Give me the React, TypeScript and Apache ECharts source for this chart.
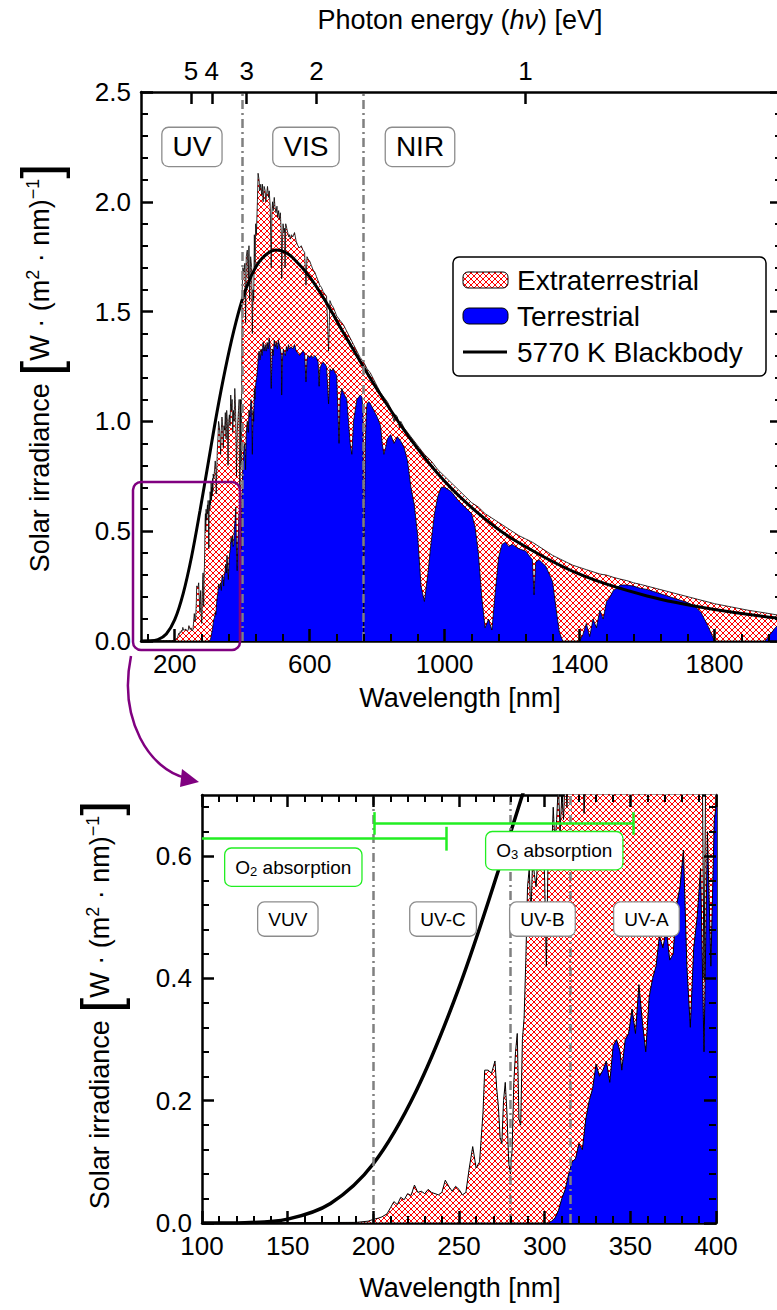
import React, { useEffect, useRef } from "react";
import * as echarts from "echarts";

// ---------- data ----------
// Extraterrestrial spectrum (wavelength nm, irradiance W/(m2 nm))
const extWl = [
  120, 190, 197, 200, 203, 205, 208, 210, 212, 214, 216, 218, 220, 222, 224, 226, 228, 230, 232, 234, 236, 238, 240,
  242, 244, 246, 248, 250, 252, 254, 256, 258, 260, 262, 264, 265, 267, 269, 271, 272, 273, 274, 275, 276, 277, 278, 279, 280,
  281, 282, 283, 284, 285, 286, 287, 288, 289, 290, 291, 292, 293, 294, 295, 296, 297, 298, 299, 300,
  301, 302, 303, 304, 305, 306, 307, 308, 309, 310, 311, 312, 313, 314, 316, 318, 320, 322, 323, 324,
  326, 328, 330, 332, 334, 336, 338, 340, 342, 344, 346, 348, 350, 352, 354, 356, 358, 360, 362, 364,
  366, 368, 370, 372, 374, 376, 378, 380, 382, 383, 385, 387, 389, 391, 393, 395, 397, 399, 400,
  402, 405, 408, 410, 412, 415, 418, 420, 422, 425, 428, 430, 432, 434, 436, 438, 440, 442, 445, 447,
  450, 452, 455, 458, 460, 462, 465, 468, 470, 472, 475, 478, 480, 483, 486, 488, 490, 492, 495, 497,
  500, 503, 505, 508, 510, 513, 516, 517, 519, 521, 524, 526, 527, 529, 532, 535, 538, 540, 543, 546,
  550, 555, 560, 565, 570, 575, 580, 585, 589, 592, 595, 600, 605, 610, 615, 620, 625, 630, 635, 640,
  645, 650, 656, 660, 665, 670, 675, 680, 690, 700, 710, 720, 730, 740, 750, 760, 770, 780, 790, 800,
  810, 820, 830, 840, 850, 855, 860, 866, 870, 880, 890, 900, 920, 940, 960, 980, 1000,
  1020, 1040, 1060, 1080, 1100, 1120, 1140, 1160, 1180, 1200, 1220, 1240, 1260, 1280, 1300, 1320, 1340, 1360, 1380, 1400,
  1420, 1440, 1460, 1480, 1500, 1520, 1540, 1560, 1580, 1600, 1650, 1700, 1750, 1800, 1850, 1900, 1950, 2000,
];
const extVal = [
  0, 0.001, 0.003, 0.006, 0.008, 0.01, 0.015, 0.025, 0.035, 0.03, 0.042, 0.038, 0.048, 0.045, 0.062, 0.05, 0.052, 0.048, 0.055, 0.05, 0.048, 0.046, 0.05,
  0.07, 0.06, 0.052, 0.06, 0.055, 0.046, 0.05, 0.09, 0.125, 0.09, 0.1, 0.18, 0.25, 0.25, 0.245, 0.265, 0.22, 0.19, 0.14, 0.13, 0.2, 0.23, 0.18, 0.1, 0.08,
  0.12, 0.23, 0.28, 0.31, 0.17, 0.16, 0.3, 0.335, 0.43, 0.55, 0.58, 0.5, 0.6, 0.57, 0.55, 0.6, 0.62, 0.58, 0.64, 0.56,
  0.42, 0.6, 0.64, 0.6, 0.68, 0.62, 0.66, 0.72, 0.64, 0.7, 0.66, 0.74, 0.68, 0.76, 0.74, 0.78, 0.82, 0.78, 0.67, 0.74,
  0.86, 0.92, 1.0, 0.98, 0.94, 0.85, 0.96, 1.02, 0.98, 0.88, 0.98, 0.96, 1.04, 0.92, 1.05, 1.0, 0.8, 1.0, 1.03, 0.98,
  1.12, 1.05, 1.1, 0.95, 1.05, 1.0, 1.15, 1.08, 0.9, 0.75, 0.95, 1.0, 1.05, 1.1, 0.4, 1.1, 0.8, 1.35, 1.6,
  1.7, 1.68, 1.72, 1.45, 1.75, 1.78, 1.65, 1.8, 1.55, 1.75, 1.7, 1.4, 1.6, 1.55, 1.85, 1.7, 1.9, 1.85, 2.0, 2.13,
  2.1, 2.05, 2.08, 2.03, 2.08, 2.0, 2.07, 2.05, 2.0, 2.03, 2.07, 2.02, 2.05, 1.98, 1.7, 1.95, 2.0, 1.96, 2.02, 1.98,
  1.95, 1.98, 1.93, 1.96, 1.92, 1.95, 1.85, 1.65, 1.8, 1.9, 1.86, 1.88, 1.7, 1.9, 1.88, 1.86, 1.84, 1.85, 1.83, 1.85,
  1.84, 1.86, 1.82, 1.8, 1.79, 1.8, 1.78, 1.77, 1.62, 1.75, 1.74, 1.73, 1.71, 1.69, 1.68, 1.66, 1.64, 1.62, 1.61, 1.59,
  1.58, 1.57, 1.32, 1.55, 1.53, 1.52, 1.5, 1.48, 1.46, 1.44, 1.41, 1.38, 1.35, 1.32, 1.29, 1.27, 1.24, 1.22, 1.19, 1.16,
  1.13, 1.11, 1.09, 1.06, 1.0, 1.03, 1.02, 0.97, 1.0, 0.97, 0.95, 0.93, 0.89, 0.85, 0.82, 0.78, 0.75,
  0.72, 0.69, 0.66, 0.63, 0.61, 0.58, 0.56, 0.54, 0.52, 0.5, 0.48, 0.465, 0.45, 0.43, 0.41, 0.39, 0.375, 0.36, 0.345, 0.335,
  0.325, 0.315, 0.305, 0.3, 0.29, 0.282, 0.275, 0.265, 0.258, 0.25, 0.23, 0.21, 0.19, 0.17, 0.155, 0.14, 0.128, 0.115,
];

// Terrestrial spectrum
const terWl = [
  100, 300, 302, 304, 306, 308, 310, 312, 314, 316, 318, 320, 322, 324, 326, 328, 330, 332, 334, 336,
  338, 340, 342, 344, 345, 347, 349, 351, 353, 355, 357, 359, 361, 363, 365, 367, 369, 371, 373, 375,
  377, 379, 381, 383, 385, 387, 389, 391, 393, 395, 397, 399, 400,
  402, 405, 408, 410, 412, 415, 418, 420, 423, 426, 428, 430, 432, 434, 436, 438, 440, 443, 446, 448,
  450, 453, 456, 459, 462, 465, 468, 471, 474, 477, 480, 483, 486, 489, 492, 495, 498, 501, 504, 507,
  510, 513, 516, 517, 519, 522, 525, 528, 531, 534, 537, 540, 545, 550, 555, 560, 565, 570, 575, 580,
  585, 589, 592, 595, 600, 605, 610, 615, 620, 625, 628, 630, 635, 640, 645, 650, 656, 660, 665, 670,
  675, 680, 687, 690, 695, 700, 710, 715, 720, 725, 730, 735, 740, 745, 750, 755, 758, 760, 762, 765,
  768, 770, 775, 780, 790, 800, 810, 815, 820, 825, 830, 840, 850, 860, 870, 880, 890, 900, 910, 920,
  930, 940, 950, 960, 970, 980, 990, 1000, 1020, 1040, 1060, 1080, 1090, 1100, 1110, 1120, 1130, 1140, 1150, 1160,
  1170, 1180, 1190, 1200, 1220, 1240, 1260, 1265, 1270, 1280, 1300, 1320, 1330, 1340, 1350, 1400, 1410, 1420, 1430, 1440,
  1450, 1460, 1470, 1480, 1490, 1500, 1510, 1520, 1540, 1560, 1580, 1600, 1620, 1640, 1660, 1680, 1700, 1720, 1740, 1760,
  1780, 1800, 1950, 1960, 1980, 2000,
];
const terVal = [
  0, 0, 0, 0.003, 0.008, 0.02, 0.04, 0.055, 0.08, 0.1, 0.105, 0.13, 0.12, 0.17, 0.2, 0.22, 0.26, 0.24, 0.25, 0.265,
  0.23, 0.29, 0.3, 0.28, 0.25, 0.3, 0.31, 0.35, 0.31, 0.39, 0.33, 0.28, 0.37, 0.4, 0.42, 0.47, 0.45, 0.48, 0.43, 0.44,
  0.52, 0.55, 0.61, 0.42, 0.32, 0.45, 0.5, 0.58, 0.28, 0.64, 0.42, 0.66, 0.68,
  0.8, 0.88, 0.9, 0.78, 0.95, 1.0, 0.95, 1.05, 1.02, 1.1, 1.08, 0.85, 1.05, 1.0, 1.15, 1.1, 1.17, 1.2, 1.25, 1.3,
  1.32, 1.28, 1.33, 1.3, 1.36, 1.32, 1.35, 1.32, 1.36, 1.33, 1.38, 1.34, 1.15, 1.33, 1.3, 1.37, 1.34, 1.36, 1.33, 1.37,
  1.35, 1.33, 1.3, 1.12, 1.28, 1.33, 1.31, 1.3, 1.34, 1.32, 1.35, 1.33, 1.34, 1.33, 1.35, 1.32, 1.31, 1.3, 1.31, 1.32,
  1.31, 1.18, 1.28, 1.3, 1.29, 1.3, 1.29, 1.3, 1.29, 1.27, 1.16, 1.24, 1.26, 1.27, 1.26, 1.25, 1.08, 1.24, 1.23, 1.24,
  1.22, 1.21, 0.9, 1.1, 1.15, 1.13, 1.1, 1.0, 0.9, 0.85, 1.0, 1.05, 1.1, 1.11, 1.12, 1.11, 1.05, 0.03, 0.5, 0.9,
  1.05, 1.08, 1.09, 1.08, 1.05, 1.02, 0.98, 0.9, 0.85, 0.88, 0.92, 0.94, 0.9, 0.93, 0.91, 0.88, 0.82, 0.7, 0.62, 0.48,
  0.25, 0.18, 0.3, 0.45, 0.58, 0.66, 0.7, 0.7, 0.68, 0.64, 0.61, 0.58, 0.52, 0.4, 0.2, 0.06, 0.1, 0.05, 0.22, 0.38,
  0.44, 0.45, 0.43, 0.44, 0.42, 0.41, 0.37, 0.21, 0.36, 0.37, 0.34, 0.27, 0.15, 0.04, 0, 0, 0.03, 0.08, 0.02, 0.1,
  0.06, 0.14, 0.1, 0.18, 0.2, 0.23, 0.24, 0.255, 0.255, 0.25, 0.24, 0.235, 0.225, 0.215, 0.205, 0.195, 0.185, 0.175, 0.16, 0.13,
  0.07, 0, 0, 0.02, 0.06, 0.09,
];

// 5770 K blackbody curve as drawn
const bbWl = [100, 125, 150, 175, 200, 225, 250, 275, 300, 325, 350, 375, 400, 425, 450, 475, 500, 525, 550, 600, 650, 700, 750, 800, 900, 1000, 1100, 1200, 1400, 1600, 1800, 2000];
const bbVal = [0, 0.0006, 0.0064, 0.032, 0.097, 0.216, 0.385, 0.594, 0.817, 1.04, 1.239, 1.412, 1.554, 1.656, 1.726, 1.765, 1.78, 1.772, 1.745, 1.658, 1.539, 1.404, 1.273, 1.146, 0.917, 0.727, 0.581, 0.466, 0.304, 0.205, 0.143, 0.102];

// tick labels
const evTicks = [5, 4, 3, 2, 1];
const topWlLabels = [200, 600, 1000, 1400, 1800];
const bottomYLabels = [0, 0.2, 0.4, 0.6];

// region boundaries
const topBounds = [400, 760];
const bottomBounds = [200, 280, 315];

const FONT = '"Liberation Sans", Arial, Helvetica, sans-serif';
const HC = 1239.84;

const hatchSvg =
  '<svg xmlns="http://www.w3.org/2000/svg" width="6" height="6"><rect width="6" height="6" fill="#ffffff"/>' +
  '<path d="M0 0L6 6M6 0L0 6" stroke="#ff0000" stroke-width="1"/></svg>';
const hatch: any = {
  image: "data:image/svg+xml;charset=utf-8," + encodeURIComponent(hatchSvg),
  repeat: "repeat",
  imageWidth: 6,
  imageHeight: 6,
};

const pts = (w: number[], v: number[]) => w.map((x, i) => [x, v[i]]);

// panel geometry
const TOP = { left: 141, top: 92, width: 641, height: 549, x: [100, 2000], y: [0, 2.5] };
const BOT = { left: 202, top: 795, width: 514, height: 428, x: [100, 400], y: [0, 0.7] };
const MAJ = 12;
const MIN = 7;

// inward tick segments expressed in the panel's own data units
function tickLines(p: typeof TOP, xT: { v: number; len: number }[], x2T: { v: number; len: number }[], yT: { v: number; len: number }[]) {
  const kx = (p.x[1] - p.x[0]) / p.width;
  const ky = (p.y[1] - p.y[0]) / p.height;
  const out: any[] = [];
  const st = (len: number) => ({ color: "#000", width: len >= MAJ ? 2.5 : 2, type: "solid" });
  xT.forEach(({ v, len }) => out.push([{ coord: [v, p.y[0]], lineStyle: st(len) }, { coord: [v, p.y[0] + len * ky] }]));
  x2T.forEach(({ v, len }) => out.push([{ coord: [v, p.y[1]], lineStyle: st(len) }, { coord: [v, p.y[1] - len * ky] }]));
  yT.forEach(({ v, len }) => {
    out.push([{ coord: [p.x[0], v], lineStyle: st(len) }, { coord: [p.x[0] + len * kx, v] }]);
    out.push([{ coord: [p.x[1], v], lineStyle: st(len) }, { coord: [p.x[1] - len * kx, v] }]);
  });
  return out;
}

export default function App() {
  const ref = useRef<HTMLDivElement>(null);
  useEffect(() => {
    if (!ref.current) return;
    const chart = echarts.init(ref.current, undefined, { renderer: "svg" });
    const ext = pts(extWl, extVal);
    const ter = pts(terWl, terVal);
    const bb = pts(bbWl, bbVal);

    // tick positions
    const topX: { v: number; len: number }[] = [];
    for (let w = 120; w <= 2000; w += 80) topX.push({ v: w, len: (w - 200) % 400 === 0 ? MAJ : MIN });
    const topEv = evTicks.map((e) => ({ v: HC / e, len: MAJ }));
    const topY: { v: number; len: number }[] = [];
    for (let i = 0; i <= 25; i++) topY.push({ v: i / 10, len: i % 5 === 0 ? MAJ : MIN });
    const botX: { v: number; len: number }[] = [];
    for (let w = 100; w <= 400; w += 10) botX.push({ v: w, len: w % 50 === 0 ? MAJ : MIN });
    const botY: { v: number; len: number }[] = [];
    for (let i = 0; i <= 17; i++) botY.push({ v: i * 0.04, len: i % 5 === 0 ? MAJ : MIN });

    const axisLine = { show: true, onZero: false, lineStyle: { color: "#000", width: 2.5 } };
    const lab = { color: "#000", fontSize: 26, fontFamily: FONT };

    const dash = { color: "#808080", width: 2.5, type: [9, 4, 2, 4] as any };
    const boxLabel = (size: number, pad: number[]) => ({
      show: true,
      position: "inside",
      formatter: "{b}",
      color: "#000",
      fontSize: size,
      fontFamily: FONT,
      backgroundColor: "#fff",
      borderColor: "#8c8c8c",
      borderWidth: 1.3,
      borderRadius: 6,
      padding: pad,
    });
    const green = "#22ee22";
    const gLine = { color: green, width: 2.5, type: "solid" };
    const yTitle = () => ({
      text: "{t|Solar irradiance }{b|[}{t|W · (m}{s|2}{t| · nm)}{s|−1}{b|]}",
      rich: {
        t: { fontSize: 27, fontFamily: FONT, fill: "#000" },
        s: { fontSize: 18, fontFamily: FONT, fill: "#000", padding: [0, 0, 14, 0] },
        b: { fontSize: 54, fontFamily: FONT, fill: "#000" },
      },
      align: "center",
      verticalAlign: "middle",
    });
    const ax = (grid: number, min: number, max: number, pos: string, extra: any) => ({
      gridIndex: grid, type: "value", min, max, position: pos,
      axisLine: { ...axisLine, lineStyle: { ...axisLine.lineStyle } },
      axisTick: { show: false }, minorTick: { show: false },
      splitLine: { show: false }, minorSplitLine: { show: false },
      ...extra,
    });

    const option: any = {
      animation: false,
      grid: [
        { left: TOP.left, top: TOP.top, width: TOP.width, height: TOP.height, containLabel: false },
        { left: BOT.left, top: BOT.top, width: BOT.width, height: BOT.height, containLabel: false },
      ],
      xAxis: [
        ax(0, TOP.x[0], TOP.x[1], "bottom", { axisLabel: { ...lab, margin: 10, customValues: topWlLabels, formatter: (v: number) => String(v) } }),
        ax(0, TOP.x[0], TOP.x[1], "top", { axisLabel: { ...lab, margin: 8, customValues: evTicks.map((e) => HC / e), formatter: (v: number) => String(Math.round(HC / v)) } }),
        ax(1, BOT.x[0], BOT.x[1], "bottom", { interval: 50, axisLabel: { ...lab, margin: 10 } }),
        ax(1, BOT.x[0], BOT.x[1], "top", { interval: 50, axisLabel: { show: false } }),
      ],
      yAxis: [
        ax(0, TOP.y[0], TOP.y[1], "left", { interval: 0.5, axisLabel: { ...lab, margin: 10, formatter: (v: number) => v.toFixed(1) } }),
        ax(0, TOP.y[0], TOP.y[1], "right", { interval: 0.5, axisLabel: { show: false } }),
        ax(1, BOT.y[0], BOT.y[1], "left", { interval: 0.2, axisLabel: { ...lab, margin: 10, customValues: bottomYLabels, formatter: (v: number) => v.toFixed(1) } }),
        ax(1, BOT.y[0], BOT.y[1], "right", { interval: 0.2, axisLabel: { show: false } }),
      ],
      series: [
        // ----- top panel -----
        {
          type: "line", xAxisIndex: 0, yAxisIndex: 0, data: ext, symbol: "none", silent: true, z: 2,
          lineStyle: { color: "#000", width: 0.8 }, areaStyle: { color: hatch, opacity: 1 },
        },
        {
          type: "line", xAxisIndex: 0, yAxisIndex: 0, data: ter, symbol: "none", silent: true, z: 3,
          lineStyle: { color: "#000", width: 0.8 }, areaStyle: { color: "#0000ff", opacity: 1 },
        },
        {
          type: "line", xAxisIndex: 0, yAxisIndex: 0, data: bb, symbol: "none", silent: true, z: 4, smooth: 0.35,
          lineStyle: { color: "#000", width: 3 },
          markLine: {
            silent: true, symbol: ["none", "none"], label: { show: false }, lineStyle: dash,
            data: [...topBounds.map((b) => ({ xAxis: b })), ...tickLines(TOP, topX, topEv, topY)],
          },
          markPoint: {
            silent: true, symbol: "rect", symbolSize: 1, itemStyle: { color: "rgba(0,0,0,0)" },
            label: boxLabel(28, [5, 10]),
            data: [
              { name: "UV", coord: [251, 2.25] },
              { name: "VIS", coord: [589, 2.25] },
              { name: "NIR", coord: [927, 2.25] },
            ],
          },
        },
        // ----- bottom panel -----
        {
          type: "line", xAxisIndex: 2, yAxisIndex: 2, data: ext, symbol: "none", silent: true, z: 2,
          lineStyle: { color: "#000", width: 1 }, areaStyle: { color: hatch, opacity: 1 },
        },
        {
          type: "line", xAxisIndex: 2, yAxisIndex: 2, data: ter, symbol: "none", silent: true, z: 3,
          lineStyle: { color: "#000", width: 1 }, areaStyle: { color: "#0000ff", opacity: 1 },
        },
        {
          type: "line", xAxisIndex: 2, yAxisIndex: 2, data: bb, symbol: "none", silent: true, z: 4, smooth: 0.35,
          lineStyle: { color: "#000", width: 3.5 },
          markLine: {
            silent: true, symbol: ["none", "none"], label: { show: false }, lineStyle: dash,
            data: [
              ...bottomBounds.map((b) => ({ xAxis: b })),
              [{ coord: [100, 0.629], lineStyle: gLine }, { coord: [242.8, 0.629] }],
              [{ coord: [242.8, 0.609], lineStyle: gLine }, { coord: [242.8, 0.648] }],
              [{ coord: [200.6, 0.654], lineStyle: gLine }, { coord: [351.9, 0.654] }],
              [{ coord: [200.6, 0.635], lineStyle: gLine }, { coord: [200.6, 0.672] }],
              [{ coord: [351.9, 0.635], lineStyle: gLine }, { coord: [351.9, 0.672] }],
              ...tickLines(BOT, botX, botX, botY),
            ],
          },
          markPoint: {
            silent: true, symbol: "rect", symbolSize: 1, itemStyle: { color: "rgba(0,0,0,0)" },
            label: boxLabel(19, [7, 10]),
            data: [
              { name: "VUV", coord: [150.1, 0.497] },
              { name: "UV-C", coord: [240.7, 0.497] },
              { name: "UV-B", coord: [298.7, 0.497] },
              { name: "UV-A", coord: [359.4, 0.497] },
              {
                name: "O2 absorption", coord: [153.3, 0.582],
                label: {
                  borderColor: green, formatter: "{n|O}{s|2}{n| absorption}", padding: [8, 10],
                  rich: { n: { fontSize: 19, fontFamily: FONT, color: "#000" }, s: { fontSize: 13, fontFamily: FONT, color: "#000", padding: [8, 0, 0, 0] } },
                },
              },
              {
                name: "O3 absorption", coord: [305.6, 0.609],
                label: {
                  borderColor: green, formatter: "{n|O}{s|3}{n| absorption}", padding: [8, 10],
                  rich: { n: { fontSize: 19, fontFamily: FONT, color: "#000" }, s: { fontSize: 13, fontFamily: FONT, color: "#000", padding: [8, 0, 0, 0] } },
                },
              },
            ],
          },
        },
      ],
      graphic: [
        // zoom box and arrow
        {
          type: "rect", z: 100, shape: { x: 133, y: 482, width: 107, height: 168, r: 8 },
          style: { fill: "none", stroke: "#800080", lineWidth: 2.5 },
        },
        {
          type: "bezierCurve", z: 100,
          shape: { x1: 131, y1: 656, cpx1: 118, cpy1: 720, cpx2: 150, cpy2: 770, x2: 186, y2: 778 },
          style: { fill: "none", stroke: "#800080", lineWidth: 2.5 },
        },
        { type: "polygon", z: 100, shape: { points: [[199, 782], [182, 769], [180, 787]] }, style: { fill: "#800080" } },
        // legend
        {
          type: "group", z: 100,
          children: [
            { type: "rect", shape: { x: 453, y: 257, width: 313, height: 119, r: 6 }, style: { fill: "#fff", stroke: "#000", lineWidth: 1.5 } },
            { type: "rect", shape: { x: 463, y: 272, width: 45, height: 16, r: 5 }, style: { fill: hatch, stroke: "#000", lineWidth: 1 } },
            { type: "text", x: 517, y: 280, style: { text: "Extraterrestrial", fontSize: 28, fontFamily: FONT, fill: "#000", verticalAlign: "middle" } },
            { type: "rect", shape: { x: 463, y: 308, width: 45, height: 16, r: 6 }, style: { fill: "#0000ff", stroke: "#000", lineWidth: 1 } },
            { type: "text", x: 517, y: 316, style: { text: "Terrestrial", fontSize: 28, fontFamily: FONT, fill: "#000", verticalAlign: "middle" } },
            { type: "line", shape: { x1: 463, y1: 352, x2: 507, y2: 352 }, style: { stroke: "#000", lineWidth: 3 } },
            { type: "text", x: 517, y: 352, style: { text: "5770 K Blackbody", fontSize: 28, fontFamily: FONT, fill: "#000", verticalAlign: "middle" } },
          ],
        },
        // axis titles
        {
          type: "text", x: 460, y: 20, z: 100,
          style: {
            text: "{t|Photon energy }{t|(}{i|hν}{t|)}{t| [eV]}",
            rich: { t: { fontSize: 27, fontFamily: FONT, fill: "#000" }, i: { fontSize: 27, fontFamily: FONT, fontStyle: "italic", fill: "#000" } },
            align: "center", verticalAlign: "middle",
          },
        },
        {
          type: "text", x: 460, y: 698, z: 100,
          style: { text: "Wavelength [nm]", fontSize: 27, fontFamily: FONT, fill: "#000", align: "center", verticalAlign: "middle" },
        },
        {
          type: "text", x: 460, y: 1288, z: 100,
          style: { text: "Wavelength [nm]", fontSize: 27, fontFamily: FONT, fill: "#000", align: "center", verticalAlign: "middle" },
        },
        { type: "text", x: 40, y: 368, z: 100, rotation: Math.PI / 2, style: yTitle() },
        { type: "text", x: 100, y: 1005, z: 100, rotation: Math.PI / 2, style: yTitle() },
      ],
    };
    chart.setOption(option);
    return () => chart.dispose();
  }, []);

  return (
    <div style={{ position: "absolute", left: 0, top: 0, width: 777, height: 1310, overflow: "hidden", background: "#fff" }}>
      <div ref={ref} style={{ width: 800, height: 1310 }} />
    </div>
  );
}
